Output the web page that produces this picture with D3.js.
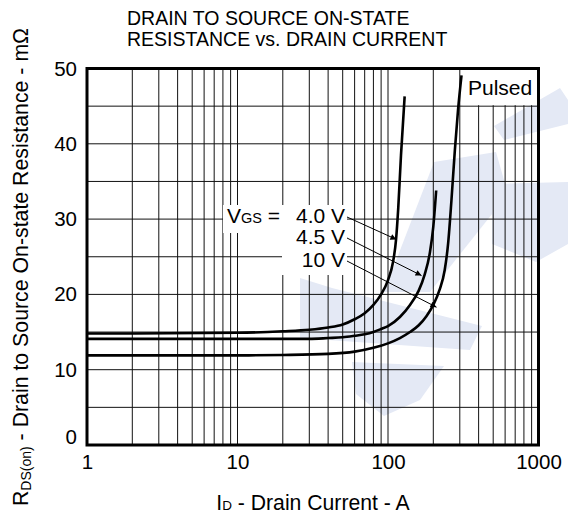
<!DOCTYPE html>
<html>
<head>
<meta charset="utf-8">
<script src="https://cdn.jsdelivr.net/npm/d3@7"></script>
<style>
  html, body { margin: 0; padding: 0; background: #fff; }
  svg text { font-family: "Liberation Sans", Arial, sans-serif; fill: #000; }
</style>
</head>
<body>
<svg id="chart" width="568" height="516"></svg>
<script>
// ---- data ----
const titleLines = ["DRAIN TO SOURCE ON-STATE", "RESISTANCE vs. DRAIN CURRENT"];
const xTicks = [1, 10, 100, 1000];
const yTicks = [0, 10, 20, 30, 40, 50];
const yGrid = [5, 10, 15, 20, 25, 30, 35, 40, 45];
const seriesNames = ["4.0 V", "4.5 V", "10 V"];
const current40 = [1, 10, 20, 30, 40, 50, 60, 70, 80, 90, 100, 108, 113, 117, 122, 129];
const rds40 = [14.8, 14.9, 15.1, 15.3, 15.6, 16.0, 16.7, 17.5, 18.6, 20.0, 21.9, 24.3, 27.2, 31.5, 38.5, 46.3];
const current45 = [1, 10, 20, 30, 40, 50, 60, 70, 80, 90, 100, 120, 140, 160, 175, 190, 200, 209];
const rds45 = [14.1, 14.1, 14.1, 14.1, 14.2, 14.3, 14.5, 14.7, 15.0, 15.4, 15.8, 17.0, 18.6, 20.5, 22.6, 25.6, 29.0, 33.8];
const current10 = [1, 10, 20, 40, 60, 80, 100, 120, 140, 160, 180, 200, 220, 238, 251, 264, 278, 292, 308];
const rds10 = [11.9, 11.9, 11.95, 12.1, 12.4, 12.9, 13.5, 14.2, 15.0, 15.9, 17.1, 18.6, 20.6, 23.2, 26.8, 32.5, 39.1, 44.5, 49.1];
const arrowTipCurrent = [113.7, 167, 210];
const arrowTipRds = [27.3, 22.5, 18.3];

const svg = d3.select("#chart");
const x = d3.scaleLog().domain([1, 1000]).range([87, 538.5]);
const y = d3.scaleLinear().domain([0, 50]).range([445, 68.5]);
const FS = 20.5;

// ---- faint watermark (decoration) ----
const wm = svg.append("g").attr("fill", "#e4e9f5");
[
  [[300,278],[332,288],[482,326],[470,350],[300,338]],
  [[352,362],[444,366],[420,400],[384,416],[356,394]],
  [[384,292],[430,292],[508,194],[496,152],[434,162]],
  [[492,184],[568,182],[568,244],[536,262],[492,244]],
  [[494,126],[560,88],[568,100],[568,124],[504,140]]
].forEach(p => wm.append("polygon").attr("points", p.map(d => d.join(",")).join(" ")));

// ---- grid ----
const xGrid = [];
[1, 10, 100].forEach(dec => { for (let k = 2; k <= 9; k++) xGrid.push(dec * k); });
xGrid.push(10, 100);
const grid = svg.append("g").attr("stroke", "#111").attr("stroke-width", 1);
grid.selectAll("line.v").data(xGrid).join("line")
  .attr("x1", d => x(d)).attr("x2", d => x(d))
  .attr("y1", y(0)).attr("y2", y(50));
grid.selectAll("line.h").data(yGrid).join("line")
  .attr("x1", x(1)).attr("x2", x(1000))
  .attr("y1", d => y(d)).attr("y2", d => y(d));

// ---- white label backgrounds ----
svg.append("rect").attr("x", x(1000) - 76).attr("y", y(50)).attr("width", 76).attr("height", y(45) - y(50) - 1).attr("fill", "#fff");
svg.append("rect").attr("x", 223).attr("y", 205).attr("width", 124).attr("height", 28).attr("fill", "#fff");
svg.append("rect").attr("x", 282).attr("y", 205).attr("width", 65).attr("height", 70).attr("fill", "#fff");

// ---- curves ----
const line = d3.line().x(d => x(d[0])).y(d => y(d[1])).curve(d3.curveMonotoneX);
const series = [
  d3.zip(current40, rds40),
  d3.zip(current45, rds45),
  d3.zip(current10, rds10)
];
svg.append("g").selectAll("path").data(series).join("path")
  .attr("d", line).attr("fill", "none").attr("stroke", "#000").attr("stroke-width", 2.6);

// ---- frame ----
svg.append("rect").attr("x", x(1)).attr("y", y(50))
  .attr("width", x(1000) - x(1)).attr("height", y(0) - y(50))
  .attr("fill", "none").attr("stroke", "#000").attr("stroke-width", 3);

// ---- axes ----
const yAxis = svg.append("g").attr("transform", `translate(${x(1)},0)`)
  .call(d3.axisLeft(y).tickValues(yTicks).tickSize(0).tickPadding(10));
yAxis.select(".domain").remove();
yAxis.selectAll("text").attr("font-size", FS).attr("font-family", "Liberation Sans, Arial")
  .attr("dy", d => d === 0 ? "-0.08em" : "0.32em");

const xAxis = svg.append("g").attr("transform", `translate(0,${y(0)})`)
  .call(d3.axisBottom(x).tickValues(xTicks).tickFormat(d3.format("d")).tickSize(0).tickPadding(9));
xAxis.select(".domain").remove();
xAxis.selectAll("text").attr("font-size", FS).attr("font-family", "Liberation Sans, Arial");

// ---- titles ----
svg.append("g").selectAll("text").data(titleLines).join("text")
  .attr("x", 127).attr("y", (d, i) => 25 + i * 20.5)
  .attr("font-size", 19.5).text(d => d);

const xt = svg.append("text").attr("x", 313).attr("y", 510).attr("text-anchor", "middle").attr("font-size", 21.2);
xt.append("tspan").text("I");
xt.append("tspan").attr("font-size", 13.5).text("D");
xt.append("tspan").text(" - Drain Current - A");

const yt = svg.append("text").attr("transform", "translate(28,267) rotate(-90)")
  .attr("text-anchor", "middle").attr("font-size", 21.3);
yt.append("tspan").text("R");
yt.append("tspan").attr("font-size", 14).attr("dy", 3).text("DS(on)");
yt.append("tspan").attr("dy", -3).text(" - Drain to Source On-state Resistance - mΩ");

svg.append("text").attr("x", 468).attr("y", 95).attr("font-size", 21).text("Pulsed");

// ---- VGS labels and arrows ----
const vg = svg.append("text").attr("x", 227).attr("y", 223).attr("font-size", 21);
vg.append("tspan").text("V");
vg.append("tspan").attr("font-size", 14.5).text("GS");
vg.append("tspan").text(" =");

const labelY = [223, 244, 267];
svg.append("g").selectAll("text").data(seriesNames).join("text")
  .attr("x", 345).attr("y", (d, i) => labelY[i]).attr("text-anchor", "end")
  .attr("font-size", 21).text(d => d);

svg.append("defs").append("marker").attr("id", "ah")
  .attr("viewBox", "0 0 10 10").attr("refX", 10).attr("refY", 5)
  .attr("markerWidth", 11).attr("markerHeight", 6).attr("markerUnits", "userSpaceOnUse")
  .attr("orient", "auto")
  .append("path").attr("d", "M0,0 L10,5 L0,10 z").attr("fill", "#000");

svg.append("g").selectAll("line").data(seriesNames).join("line")
  .attr("x1", 347).attr("y1", (d, i) => labelY[i] - 6)
  .attr("x2", (d, i) => x(arrowTipCurrent[i])).attr("y2", (d, i) => y(arrowTipRds[i]))
  .attr("stroke", "#000").attr("stroke-width", 1).attr("marker-end", "url(#ah)");
</script>
</body>
</html>
